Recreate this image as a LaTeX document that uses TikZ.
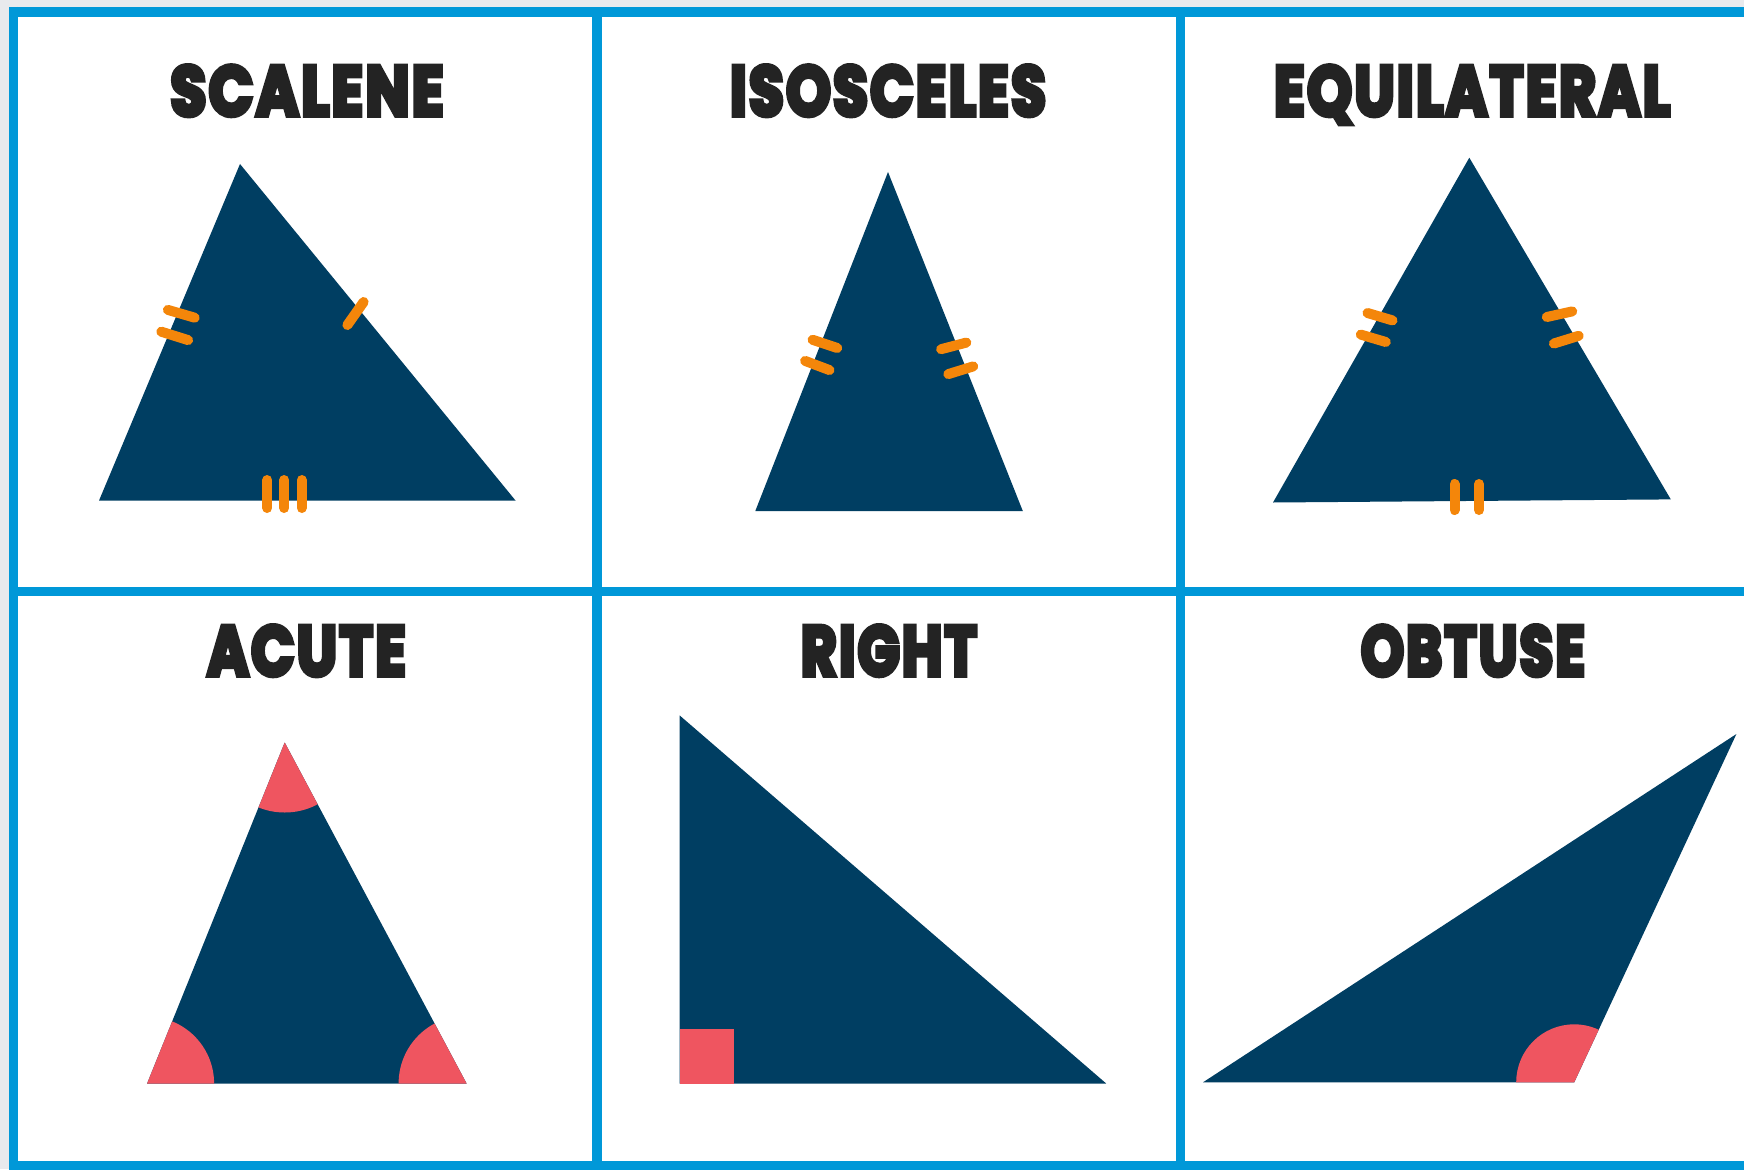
\documentclass[tikz,border=0pt]{standalone}
\usepackage{fontspec}
\newfontfamily\titlefont{Poppins}[BoldFeatures={FakeBold=7}, LetterSpace=4]
\definecolor{bgGrey}{RGB}{232,234,237}
\definecolor{frameBlue}{RGB}{0,152,216}
\definecolor{navy}{RGB}{0,62,98}
\definecolor{tickOrange}{RGB}{244,134,10}
\definecolor{angleRed}{RGB}{239,85,96}
\definecolor{ink}{RGB}{35,35,35}
\tikzset{
  frameline/.style={draw=frameBlue, line width=9.5pt},
  tri/.style={fill=navy},
  tickmark/.style={draw=tickOrange, line width=10pt, line cap=round},
  anglefill/.style={fill=angleRed},
  title/.style={anchor=base, inner sep=0pt, text=ink}
}
\begin{document}
\begin{tikzpicture}[x=1pt,y=-1pt]
\useasboundingbox (0,0) rectangle (1744,1169);
\clip (0,0) rectangle (1744,1169);
\fill[bgGrey] (0,0) rectangle (1744,1169);
\fill[white] (13.5,12) rectangle (1780,1166);

% frame
\draw[frameline] (13.5,12) -- (1780,12);
\draw[frameline] (13.5,591.5) -- (1780,591.5);
\draw[frameline] (13.5,1166) -- (1780,1166);
\draw[frameline] (13.5,7) -- (13.5,1175);
\draw[frameline] (597,12) -- (597,1175);
\draw[frameline] (1180.5,12) -- (1180.5,1175);

% titles
\node[title] (tScalene) at (307,115.5) {\resizebox{273pt}{50pt}{\titlefont\bfseries SCALENE}};
\node[title] (tIsosceles) at (888,115.5) {\resizebox{316pt}{50pt}{\titlefont\bfseries ISOSCELES}};
\node[title] (tEquilateral) at (1472,115.5) {\resizebox{396pt}{50pt}{\titlefont\bfseries EQUILATERAL}};
\node[title] (tAcute) at (306.5,675.5) {\resizebox{199pt}{50pt}{\titlefont\bfseries ACUTE}};
\node[title] (tRight) at (889,675.5) {\resizebox{176pt}{50pt}{\titlefont\bfseries RIGHT}};
\node[title] (tObtuse) at (1473,675.5) {\resizebox{224pt}{50pt}{\titlefont\bfseries OBTUSE}};

% scalene
\fill[tri] (240,164) -- (99,500.6) -- (515.6,500.6) -- cycle;
\draw[tickmark] (167.9,309.9) -- (194.7,317.7);
\draw[tickmark] (161.3,331.7) -- (188.1,340.1);
\draw[tickmark] (363.6,302.0) -- (347.4,325.0);
\draw[tickmark] (267.3,480) -- (267.3,508);
\draw[tickmark] (284.3,480) -- (284.3,508);
\draw[tickmark] (301.7,480) -- (301.7,508);

% isosceles
\fill[tri] (888,172) -- (755.3,511) -- (1022.8,511) -- cycle;
\draw[tickmark] (812.6,339.8) -- (837.2,348.0);
\draw[tickmark] (805.1,360.9) -- (829.5,370.1);
\draw[tickmark] (941.1,349.2) -- (966.3,342.6);
\draw[tickmark] (948.3,374.1) -- (973.2,366.4);

% equilateral
\fill[tri] (1469.3,157.7) -- (1273,502.5) -- (1670.8,499.4) -- cycle;
\draw[tickmark] (1367.5,313.0) -- (1392.5,320.4);
\draw[tickmark] (1360.8,334.6) -- (1385.8,342.0);
\draw[tickmark] (1546.8,317.0) -- (1572.2,311.4);
\draw[tickmark] (1553.9,343.5) -- (1578.7,335.8);
\draw[tickmark] (1454.5,484) -- (1454.5,510);
\draw[tickmark] (1479,484) -- (1479,510);

% acute
\fill[tri] (284.7,742.5) -- (147.1,1083.5) -- (466.6,1083.5) -- cycle;
\begin{scope}
  \clip (284.7,742.5) -- (147.1,1083.5) -- (466.6,1083.5) -- cycle;
  \fill[anglefill] (284.7,742.5) circle[radius=70];
  \fill[anglefill] (147.1,1083.5) circle[radius=67];
  \fill[anglefill] (466.6,1083.5) circle[radius=68];
\end{scope}

% right
\fill[tri] (679.5,715.3) -- (679.5,1083.5) -- (1106.2,1083.5) -- cycle;
\fill[anglefill] (679.5,1028.5) rectangle (734,1083.5);

% obtuse
\fill[tri] (1203,1082.3) -- (1736.4,734) -- (1574.2,1082.3) -- cycle;
\begin{scope}
  \clip (1203,1082.3) -- (1736.4,734) -- (1574.2,1082.3) -- cycle;
  \fill[anglefill] (1574.2,1082.3) circle[radius=58];
\end{scope}
\end{tikzpicture}
\end{document}
